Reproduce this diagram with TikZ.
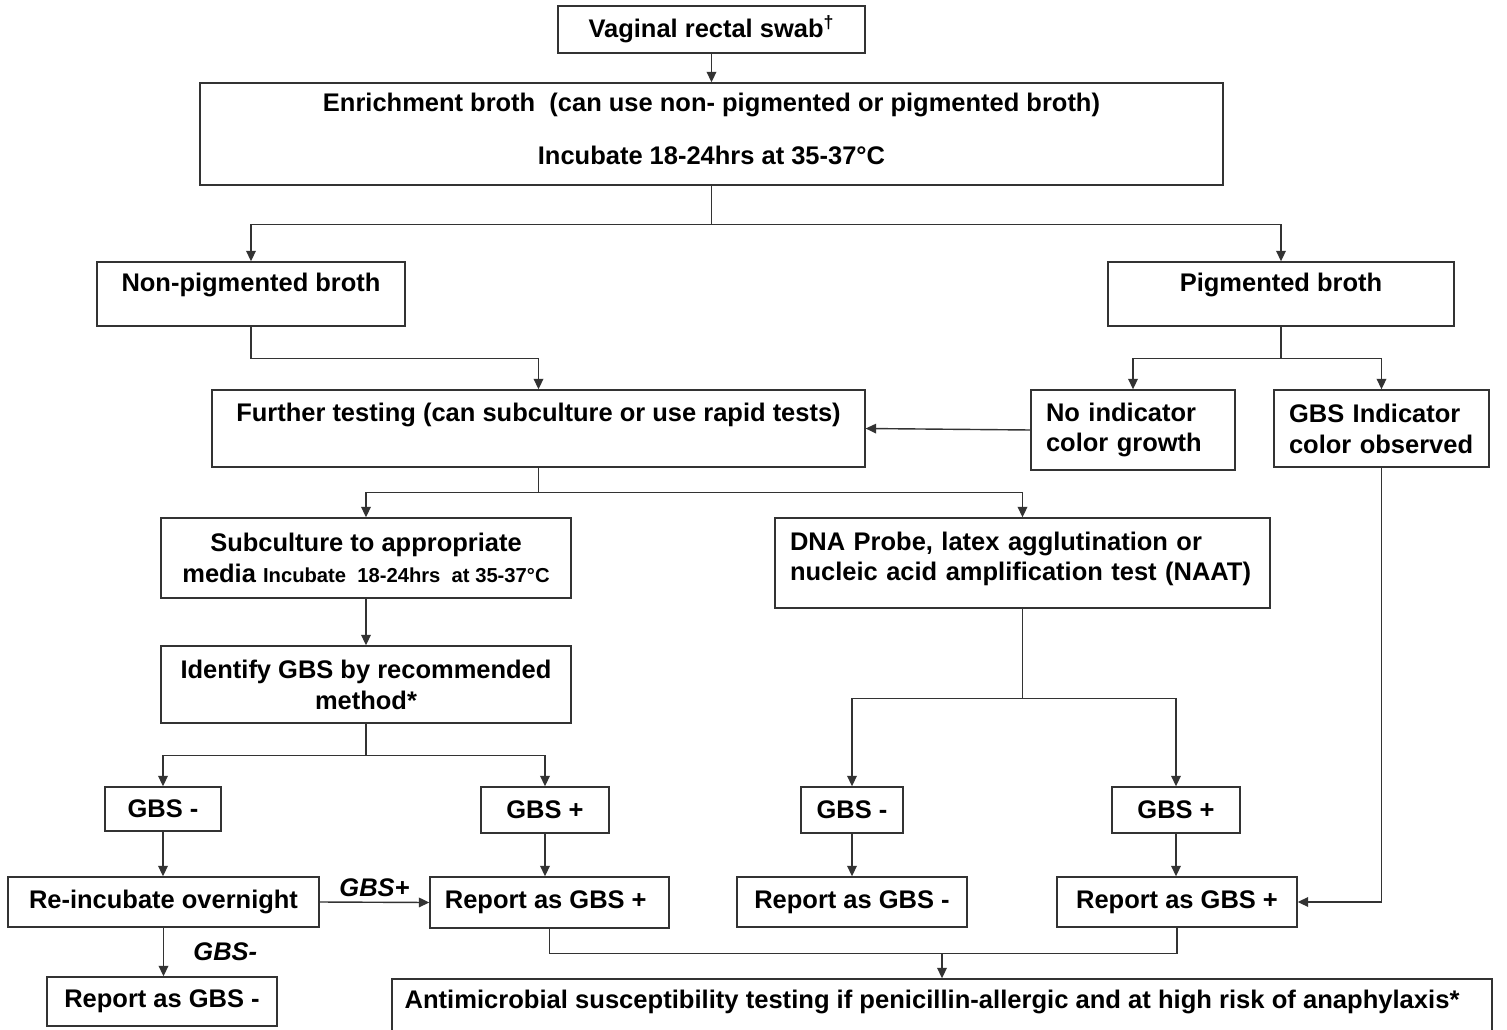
\documentclass[tikz,border=0pt]{standalone}
\usepackage{fontspec}
\setmainfont{Liberation Sans}
\usepackage{graphicx}
\usepackage{tikz}
\usetikzlibrary{arrows.meta, positioning}
\definecolor{ink}{HTML}{000000}
\definecolor{rule}{HTML}{333333}
\tikzset{
  font=\fontsize{14.5}{17.6}\selectfont\bfseries,
  >={Triangle[length=6pt, width=5.5pt]},
  %
  box/.style={
    draw=rule, line width=0.8pt, fill=white, inner sep=0pt,
    align=center, text=ink,
  },
  boxl/.style={box, align=left, inner xsep=0.3cm},
  %
  flow/.style={draw=rule, line width=0.8pt, ->},
  link/.style={draw=rule, line width=0.8pt},
  %
  lbl/.style={font=\fontsize{14.5}{17.6}\selectfont\bfseries\itshape,
              text=ink, inner sep=1pt},
}

\begin{document}
\begin{tikzpicture}[x=0.02cm, y=-0.02cm]

  \clip (0,0) rectangle (1507,1030);

  % top
  \node[box, minimum width=6.14cm, minimum height=0.94cm] (swab) at (711.5,29.5)
    {Vaginal rectal swab\textsuperscript{†}};
  \node[box, minimum width=20.46cm, minimum height=2.04cm, text depth=6pt] (enrich) at (711.5,134)
    {Enrichment broth\ \ (can use non- pigmented or pigmented broth)\\[12.6pt]
     Incubate 18-24hrs at 35-37°C};

  % broth type
  \node[box, minimum width=6.16cm, minimum height=1.28cm, text depth=13pt] (nonpig) at (251,294)
    {Non-pigmented broth};
  \node[box, minimum width=6.92cm, minimum height=1.28cm, text depth=13pt] (pig) at (1281,294)
    {Pigmented broth};

  \node[box, minimum width=13.06cm, minimum height=1.54cm, text depth=18.6pt] (further) at (538.5,428.5)
    {Further testing (can subculture or use rapid tests)};
  \node[boxl, text width=3.48cm, minimum height=1.6cm] (noind) at (1133,430)
    {No indicator\\color growth};
  \node[boxl, text width=3.7cm, minimum height=1.54cm] (gbsind) at (1381.5,428.5)
    {GBS Indicator\\color observed};

  % culture / rapid tests
  \node[box, minimum width=8.2cm, minimum height=1.6cm] (subc) at (366,558)
    {Subculture to appropriate\\media {\fontsize{11.5}{14}\selectfont Incubate\ \ 18-24hrs\ \ at 35-37°C}};
  \node[boxl, text width=9.3cm, minimum height=1.8cm, text depth=25.3pt] (dna) at (1022.5,563)
    {DNA Probe, latex agglutination or\\nucleic acid amplification test (NAAT)};
  \node[box, minimum width=8.2cm, minimum height=1.54cm] (ident) at (366,684.5)
    {Identify GBS by recommended\\method*};

  % results
  \node[box, minimum width=2.32cm, minimum height=0.88cm] (neg1) at (163,809) {GBS -};
  \node[box, minimum width=2.56cm, minimum height=0.92cm] (pos1) at (545,810) {GBS +};
  \node[box, minimum width=2.04cm, minimum height=0.92cm] (neg2) at (852,810) {GBS -};
  \node[box, minimum width=2.56cm, minimum height=0.92cm] (pos2) at (1176,810) {GBS +};

  \node[box, minimum width=6.22cm, minimum height=1.0cm] (reinc) at (163.5,902) {Re-incubate overnight};
  \node[box, minimum width=4.78cm, minimum height=1.02cm] (rep1) at (549.5,902.5) {Report as GBS +\hspace*{0.15cm}};
  \node[box, minimum width=4.6cm, minimum height=1.0cm] (rep2) at (852,902) {Report as GBS -};
  \node[box, minimum width=4.8cm, minimum height=1.0cm] (rep3) at (1177,902) {Report as GBS +};
  \node[box, minimum width=4.6cm, minimum height=0.98cm] (rep4) at (162,1001.5) {Report as GBS -};

  \node[box, minimum width=22cm, minimum height=1.42cm, text depth=17pt] (amr) at (942,1014.5)
    {\resizebox{21.1cm}{\height}{Antimicrobial susceptibility testing if penicillin-allergic and at high risk of anaphylaxis*}\hspace*{0.4cm}};

  % connectors
  \draw[flow] (swab) -- (enrich);
  \draw[link] (enrich.south) -- ++(0,39) coordinate (j1);
  \draw[flow] (j1) -| (nonpig.north);
  \draw[flow] (j1) -| (pig.north);

  \draw[flow] (nonpig.south) -- ++(0,32) -| (further.north);
  \draw[link] (pig.south) -- ++(0,32) coordinate (j2);
  \draw[flow] (j2) -| (noind.north);
  \draw[flow] (j2) -| (gbsind.north);
  \draw[flow] (noind.west) -- (further.east);

  \draw[link] (further.south) -- ++(0,25) coordinate (j3);
  \draw[flow] (j3) -| (subc.north);
  \draw[flow] (j3) -| (dna.north);
  \draw[flow] (subc) -- (ident);

  \draw[link] (ident.south) -- ++(0,32) coordinate (j4);
  \draw[flow] (j4) -| (neg1.north);
  \draw[flow] (j4) -| (pos1.north);
  \draw[link] (dna.south) -- ++(0,90) coordinate (j5);
  \draw[flow] (j5) -| (neg2.north);
  \draw[flow] (j5) -| (pos2.north);

  \draw[flow] (neg1.south) -- (neg1.south |- reinc.north);
  \draw[flow] (pos1.south) -- (pos1.south |- rep1.north);
  \draw[flow] (neg2.south) -- (neg2.south |- rep2.north);
  \draw[flow] (pos2.south) -- (pos2.south |- rep3.north);

  \draw[flow] (reinc.east) -- node[lbl, above=2pt] {GBS+} (rep1.west);
  \draw[flow] (reinc.south) -- node[lbl, right=0.55cm] {GBS-} (reinc.south |- rep4.north);
  \draw[flow] (gbsind.south) |- (rep3.east);

  \draw[link] (rep1.south) -- ++(0,25) coordinate (j6) -| (rep3.south);
  \draw[flow] (amr.north |- j6) -- (amr.north);

\end{tikzpicture}
\end{document}
